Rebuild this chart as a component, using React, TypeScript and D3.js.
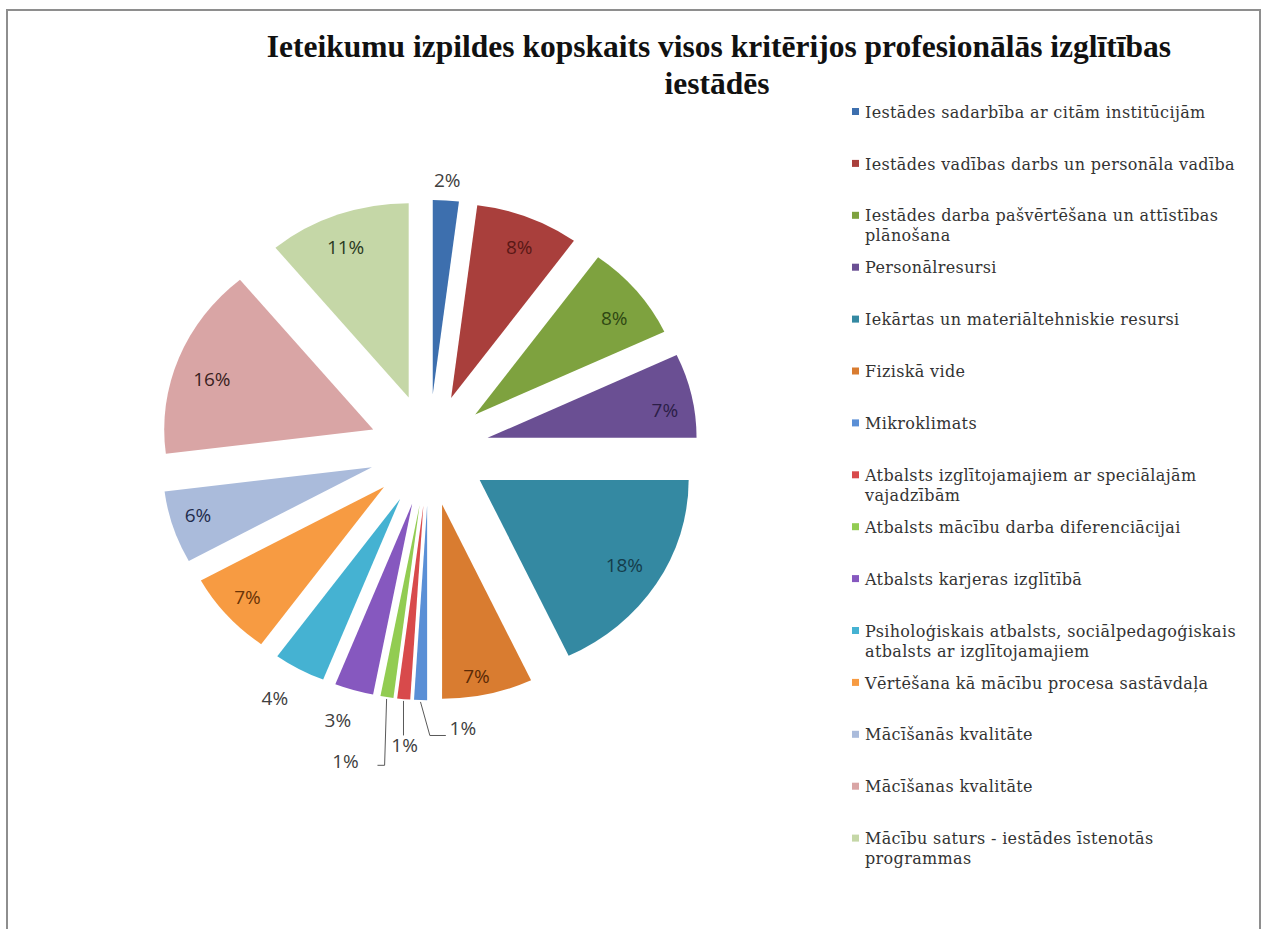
import React from "react";
import * as d3 from "d3";

const titleLines = [
  "Ieteikumu izpildes kopskaits visos kritērijos profesionālās izglītības",
  "iestādēs",
];

const categories = [
  "Iestādes sadarbība ar citām institūcijām",
  "Iestādes vadības darbs un personāla vadība",
  "Iestādes darba pašvērtēšana un attīstības plānošana",
  "Personālresursi",
  "Iekārtas un materiāltehniskie resursi",
  "Fiziskā vide",
  "Mikroklimats",
  "Atbalsts izglītojamajiem ar speciālajām vajadzībām",
  "Atbalsts mācību darba diferenciācijai",
  "Atbalsts karjeras izglītībā",
  "Psiholoģiskais atbalsts, sociālpedagoģiskais atbalsts ar izglītojamajiem",
  "Vērtēšana kā mācību procesa sastāvdaļa",
  "Mācīšanās kvalitāte",
  "Mācīšanas kvalitāte",
  "Mācību saturs - iestādes īstenotās programmas",
];

const values = [2, 8, 8, 7, 18, 7, 1, 1, 1, 3, 4, 7, 6, 16, 11];

const colors = [
  "#3d6fae", "#a93f3c", "#7ea23f", "#6a4f93", "#3489a2", "#d97c30",
  "#5a8fd6", "#d84a4b", "#92cc52", "#8658bf", "#45b2d2", "#f79b42",
  "#aabbdb", "#d9a5a5", "#c5d7a7",
];

const labelColors = [
  "#404040", "#5a1816", "#2f4813", "#2c1e47", "#143d4b", "#5b2a06",
  "#404040", "#404040", "#404040", "#404040", "#404040", "#6a3407",
  "#1f2c4c", "#3a1f1f", "#2b3a1e",
];

const labelOutside = [true, false, false, false, false, false, true, true, true, true, true, false, false, false, false];

const labelNudge: [number, number][] = [
  [0, 0], [5, -3], [7, 5], [10, 7], [0, 0], [-3, 16], [43, 8], [3, 26],
  [-38, 44], [-10, 10], [-14, 11], [-8, 5], [-11, -1], [-2, 8], [-5, 0],
];

const W = 1267;
const H = 929;
const CX = 429;
const CY = 450;
const R = 209;
const EXPLODE = 60;
const SY = 0.93;

function wrap(text: string, budget: number): string[] {
  const words = text.split(" ");
  const lines: string[] = [];
  let cur = "";
  for (const w of words) {
    const next = cur ? cur + " " + w : w;
    if (next.length > budget && cur) {
      lines.push(cur);
      cur = w;
    } else cur = next;
  }
  if (cur) lines.push(cur);
  return lines;
}

export default function App() {
  const total = d3.sum(values);
  const pie = d3.pie<number>().sort(null).value((d) => d).startAngle(0).endAngle(2 * Math.PI);
  const arcs = pie(values);
  const arc = d3.arc<d3.PieArcDatum<number>>().innerRadius(0).outerRadius(R);
  const fmt = d3.format(".0%");

  const dir = (a: number) => [Math.sin(a), -Math.cos(a)];
  const toScreen = (x: number, y: number) => [CX + x, CY + y * SY];

  const slices = arcs.map((a, i) => {
    const mid = (a.startAngle + a.endAngle) / 2;
    const [ux, uy] = dir(mid);
    const ox = ux * EXPLODE;
    const oy = uy * EXPLODE;
    const rl = labelOutside[i] ? R + 22 : R * 0.82;
    const [lx0, ly0] = toScreen(ox + ux * rl, oy + uy * rl);
    const lx = lx0 + labelNudge[i][0];
    const ly = ly0 + labelNudge[i][1];
    const [px, py] = toScreen(ox + ux * (R + 2), oy + uy * (R + 2));
    return { a, i, ox, oy, lx, ly, px, py };
  });

  const leaders: { pts: [number, number][] }[] = [];
  slices.forEach((s) => {
    if (s.i === 6) {
      leaders.push({ pts: [[s.px, s.py], [s.lx - 33, s.ly + 7], [s.lx - 17, s.ly + 7]] });
    } else if (s.i === 7) {
      leaders.push({ pts: [[s.px, s.py], [s.px, s.ly - 10]] });
    } else if (s.i === 8) {
      leaders.push({ pts: [[s.px, s.py], [s.px - 2, s.ly + 4], [s.lx + 32, s.ly + 4]] });
    }
  });
  const line = d3.line();

  const legendX = 852;
  const legendY0 = 112;
  const legendStep = 51.9;

  return (
    <svg
      width={W}
      height={H}
      style={{ position: "absolute", left: 0, top: 0, background: "#fff" }}
    >
      <rect x={7} y={10} width={1253} height={940} fill="#fff" stroke="#8e8e8e" strokeWidth={2} />
      <g fontFamily="'Liberation Serif', 'Times New Roman', serif" fontWeight="bold" fontSize={31.5} fill="#111" textAnchor="middle">
        <text x={719} y={57}>{titleLines[0]}</text>
        <text x={717} y={94}>{titleLines[1]}</text>
      </g>
      <g transform={`translate(${CX},${CY}) scale(1,${SY})`}>
        {slices.map((s) => (
          <path
            key={s.i}
            d={arc(s.a) as string}
            transform={`translate(${s.ox},${s.oy})`}
            fill={colors[s.i]}
          />
        ))}
      </g>
      <g fill="none" stroke="#595959" strokeWidth={1}>
        {leaders.map((l, k) => (
          <path key={k} d={line(l.pts) as string} />
        ))}
      </g>
      <g fontFamily="'Open Sans', sans-serif" fontSize={19} textAnchor="middle">
        {slices.map((s) => (
          <text key={s.i} x={s.lx} y={s.ly} dy="0.36em" fill={labelColors[s.i]}>
            {fmt(values[s.i] / total)}
          </text>
        ))}
      </g>
      <g fontFamily="'DejaVu Serif', serif" fontSize={16} letterSpacing={0.35} fill="#333">
        {categories.map((c, i) => {
          const y = legendY0 + i * legendStep;
          const lines = wrap(c, 44);
          return (
            <g key={i}>
              <rect x={legendX} y={y - 4} width={7} height={7} fill={colors[i]} />
              {lines.map((t, k) => (
                <text key={k} x={legendX + 13} y={y + k * 20} dy="0.35em">
                  {t}
                </text>
              ))}
            </g>
          );
        })}
      </g>
    </svg>
  );
}
